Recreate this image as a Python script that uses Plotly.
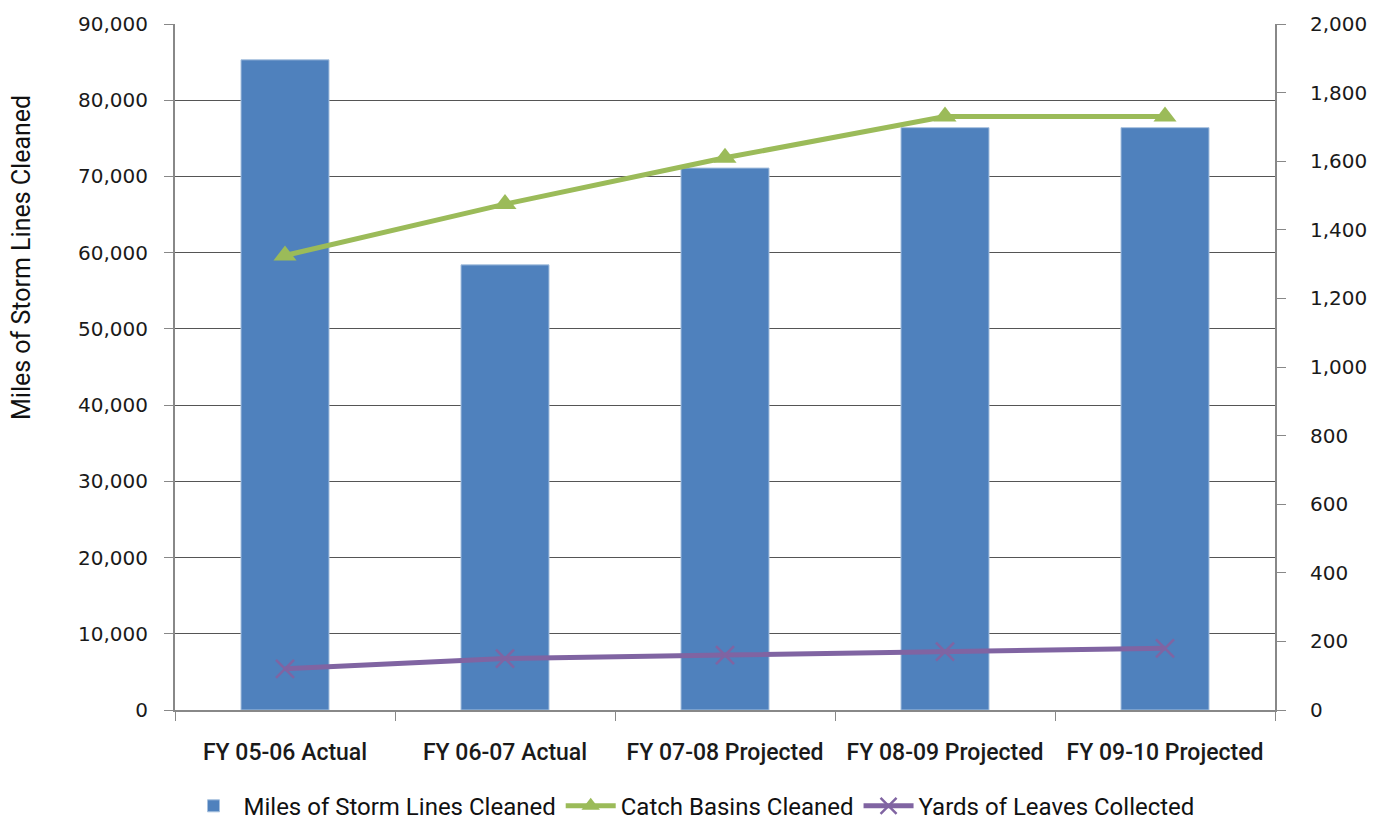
import plotly.graph_objects as go

# Fiscal-year categories
categories = ["FY 05-06 Actual", "FY 06-07 Actual", "FY 07-08 Projected",
              "FY 08-09 Projected", "FY 09-10 Projected"]

# Series values
storm_lines_miles = [85300, 58400, 71100, 76400, 76400]
catch_basins = [1325, 1475, 1610, 1730, 1730]
leaves_yards = [120, 150, 160, 170, 180]

left_ticks = [0, 10000, 20000, 30000, 40000, 50000, 60000, 70000, 80000, 90000]
right_ticks = [0, 200, 400, 600, 800, 1000, 1200, 1400, 1600, 1800, 2000]

LABELFONT = "Roboto, Liberation Sans, sans-serif"
TICKFONT = "DejaVu Sans, Verdana, sans-serif"

fig = go.Figure()

fig.add_trace(go.Bar(
    x=categories, y=storm_lines_miles, name="Miles of Storm Lines Cleaned",
    marker=dict(color="#4F81BD", line=dict(color="#A7C0DE", width=1)),
    width=0.4, yaxis="y",
))

fig.add_trace(go.Scatter(
    x=categories, y=catch_basins, name="Catch Basins Cleaned",
    mode="lines+markers", yaxis="y2",
    line=dict(color="#9BBB59", width=5),
    marker=dict(symbol="triangle-up", size=20, color="#9BBB59"),
))

fig.add_trace(go.Scatter(
    x=categories, y=leaves_yards, name="Yards of Leaves Collected",
    mode="lines+markers", yaxis="y2",
    line=dict(color="#8064A2", width=5),
    marker=dict(symbol="x-thin", size=18, color="#8064A2",
                line=dict(color="#8064A2", width=2.5)),
))

fig.update_layout(
    width=1383, height=821,
    margin=dict(l=175, r=108, t=24, b=111),
    paper_bgcolor="white", plot_bgcolor="white",
    showlegend=True,
    legend=dict(orientation="h", x=0.5, xanchor="center",
                xref="container", yref="container", y=0.018, yanchor="middle",
                font=dict(family=LABELFONT, size=24, color="#111"),
                traceorder="normal", itemwidth=50, tracegroupgap=0),
    xaxis=dict(
        type="category", tickson="boundaries", ticks="outside", ticklen=9,
        tickcolor="#888", tickwidth=1, showline=True, linecolor="#888", linewidth=2,
        showgrid=False, ticklabelstandoff=20,
        tickfont=dict(family=LABELFONT, size=23, color="#1a1a1a", weight=500),
    ),
    yaxis=dict(
        range=[0, 90000], tickvals=left_ticks, tickformat=",d",
        showgrid=True, gridcolor="#555", gridwidth=1,
        showline=True, linecolor="#888", linewidth=2,
        ticks="outside", ticklen=9, tickcolor="#888", ticklabelstandoff=12,
        tickfont=dict(family=TICKFONT, size=20, color="#1a1a1a"),
        zeroline=False,
    ),
    yaxis2=dict(
        range=[0, 2000], tickvals=right_ticks, tickformat=",d",
        overlaying="y", side="right", showgrid=False,
        showline=True, linecolor="#888", linewidth=2,
        ticks="outside", ticklen=9, tickcolor="#888", ticklabelstandoff=20,
        tickfont=dict(family=TICKFONT, size=20, color="#1a1a1a"),
        zeroline=False,
    ),
)

# Left-axis title, set in the upper part of the axis
fig.add_annotation(
    text="Miles of Storm Lines Cleaned", textangle=-90,
    xref="paper", yref="paper", x=-0.139, y=0.659,
    xanchor="center", yanchor="middle", showarrow=False,
    font=dict(family=LABELFONT, size=25, color="#111"),
)

fig.write_html("out.html")
